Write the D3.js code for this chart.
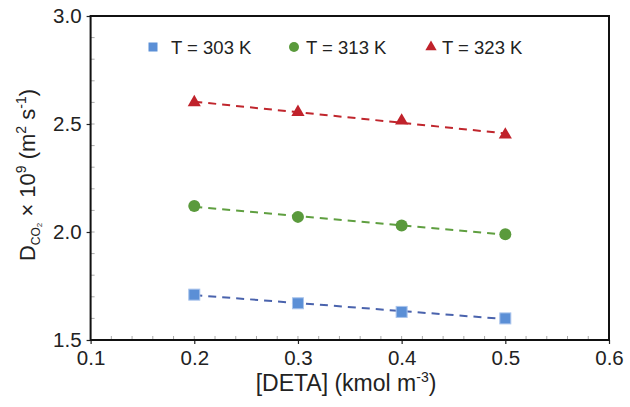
<!DOCTYPE html>
<html><head><meta charset="utf-8">
<script src="https://cdn.jsdelivr.net/npm/d3@7"></script>
<style>body{margin:0;background:#fff}svg{display:block;font-family:"Liberation Sans",Arial,sans-serif}</style>
</head><body><svg id="c" width="630" height="407"></svg>
<script>
const concentrations = [0.2, 0.3, 0.4, 0.5];
const seriesNames = ["T = 303 K", "T = 313 K", "T = 323 K"];
const d303 = [1.71, 1.67, 1.63, 1.60];
const d313 = [2.12, 2.07, 2.03, 1.99];
const d323 = [2.60, 2.555, 2.515, 2.45];
const xTicks = [0.1, 0.2, 0.3, 0.4, 0.5, 0.6];
const yTicks = [1.5, 2.0, 2.5, 3.0];

const series = [
  {name: seriesNames[0], values: d303, fill: "#5b8fd6", stroke: "#a9c4ec", line: "#4a63ad", shape: "square"},
  {name: seriesNames[1], values: d313, fill: "#5a9a3c", stroke: "#5a9a3c", line: "#5f9f40", shape: "circle"},
  {name: seriesNames[2], values: d323, fill: "#c0222b", stroke: "#c0222b", line: "#c0262d", shape: "triangle"}
];

const svg = d3.select("#c");
const L = 90.6, R = 609, T = 16, B = 340;
const x = d3.scaleLinear().domain([0.1, 0.6]).range([L, R]);
const y = d3.scaleLinear().domain([1.5, 3.0]).range([B, T]);

// minor ticks (inside)
const g = svg.append("g");
g.selectAll(".mx").data(d3.range(0.12, 0.6, 0.02)).enter().append("line")
  .attr("x1", d => x(d)).attr("x2", d => x(d)).attr("y1", B).attr("y2", B - 4)
  .attr("stroke", "#aaa").attr("stroke-width", 1);
g.selectAll(".my").data(d3.range(1.6, 3.0, 0.1)).enter().append("line")
  .attr("y1", d => y(d)).attr("y2", d => y(d)).attr("x1", L).attr("x2", L + 4)
  .attr("stroke", "#aaa").attr("stroke-width", 1);

// axes
const xAxis = d3.axisBottom(x).tickValues(xTicks).tickFormat(d3.format(".1f")).tickSize(4).tickPadding(6);
const yAxis = d3.axisLeft(y).tickValues(yTicks).tickFormat(d3.format(".1f")).tickSize(4).tickPadding(5);
const gx = svg.append("g").attr("transform", `translate(0,${B})`).call(xAxis);
const gy = svg.append("g").attr("transform", `translate(${L},0)`).call(yAxis);
[gx, gy].forEach(a => {
  a.select(".domain").remove();
  a.selectAll("line").attr("stroke", "#222").attr("stroke-width", 1.2);
  a.selectAll("text").attr("font-size", 20.5).attr("fill", "#222").attr("font-family", "'Liberation Sans',Arial,sans-serif");
});

// frame
svg.append("rect").attr("x", L).attr("y", T).attr("width", R - L).attr("height", B - T)
  .attr("fill", "none").attr("stroke", "#111").attr("stroke-width", 2);

// trend lines (least-squares fit of each series)
series.forEach(s => {
  const xm = d3.mean(concentrations), ym = d3.mean(s.values);
  const slope = d3.sum(concentrations, (c, i) => (c - xm) * (s.values[i] - ym)) / d3.sum(concentrations, c => (c - xm) ** 2);
  const x0 = concentrations[0], x1 = concentrations[concentrations.length - 1];
  svg.append("line")
    .attr("x1", x(x0)).attr("y1", y(ym + slope * (x0 - xm)))
    .attr("x2", x(x1)).attr("y2", y(ym + slope * (x1 - xm)))
    .attr("stroke", s.line).attr("stroke-width", 2).attr("stroke-dasharray", "8,6");
});

function marker(sel, shape, s) {
  if (shape === "square") {
    sel.append("rect").attr("x", -5.5).attr("y", -5.5).attr("width", 11).attr("height", 11)
      .attr("fill", s.fill).attr("stroke", s.stroke).attr("stroke-width", 1);
  } else if (shape === "circle") {
    sel.append("circle").attr("r", 6).attr("fill", s.fill);
  } else {
    sel.append("path").attr("d", d3.symbol(d3.symbolTriangle, 75)()).attr("fill", s.fill);
  }
}

series.forEach(s => {
  s.values.forEach((v, i) => {
    const m = svg.append("g").attr("transform", `translate(${x(concentrations[i])},${y(v)})`);
    marker(m, s.shape, s);
  });
});

// legend
const legendPos = [{mx: 153, tx: 171}, {mx: 294, tx: 306}, {mx: 431, tx: 442}];
series.forEach((s, i) => {
  const m = svg.append("g").attr("transform", `translate(${legendPos[i].mx},47)`);
  if (s.shape === "square") {
    m.append("rect").attr("x", -4.5).attr("y", -4.5).attr("width", 9).attr("height", 9).attr("fill", s.fill);
  } else if (s.shape === "circle") {
    m.append("circle").attr("r", 5).attr("fill", s.fill);
  } else {
    m.append("path").attr("d", d3.symbol(d3.symbolTriangle, 55)()).attr("fill", s.fill);
  }
  svg.append("text").attr("x", legendPos[i].tx).attr("y", 53.5).attr("font-size", 18.5).attr("fill", "#222").text(s.name);
});

// x title
const xt = svg.append("text").attr("x", 346).attr("y", 391).attr("text-anchor", "middle").attr("font-size", 23).attr("fill", "#222");
xt.append("tspan").text("[DETA] (kmol m");
xt.append("tspan").attr("font-size", 14).attr("dy", -9).text("-3");
xt.append("tspan").attr("dy", 9).text(")");

// y title
const yt = svg.append("text").attr("transform", "translate(35,175) rotate(-90)").attr("text-anchor", "middle").attr("font-size", 22).attr("fill", "#222");
yt.append("tspan").text("D");
yt.append("tspan").attr("font-size", 12).attr("dy", 5).text("CO");
yt.append("tspan").attr("font-size", 8).attr("dy", 2).text("2");
yt.append("tspan").attr("dy", -7).text(" × 10");
yt.append("tspan").attr("font-size", 14).attr("dy", -9).text("9");
yt.append("tspan").attr("dy", 9).text(" (m");
yt.append("tspan").attr("font-size", 14).attr("dy", -9).text("2");
yt.append("tspan").attr("dy", 9).text(" s");
yt.append("tspan").attr("font-size", 14).attr("dy", -9).text("-1");
yt.append("tspan").attr("dy", 9).text(")");
</script></body></html>
